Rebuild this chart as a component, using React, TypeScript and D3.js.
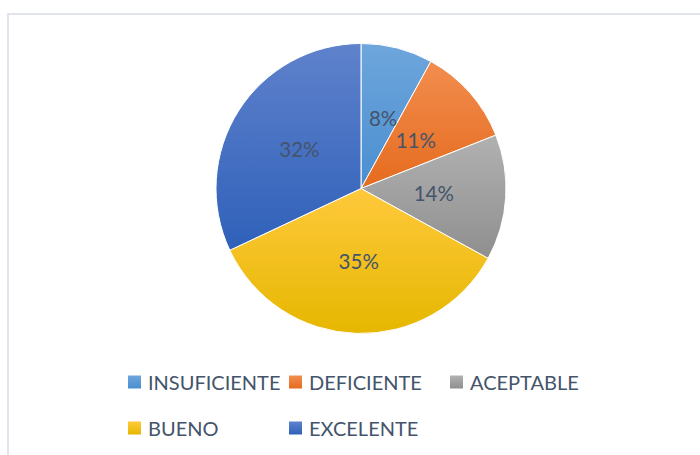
import React from "react";
import * as d3 from "d3";

const categories = ["INSUFICIENTE", "DEFICIENTE", "ACEPTABLE", "BUENO", "EXCELENTE"];
const values = [8, 11, 14, 35, 32];
const topColors = ["#6ea6dc", "#f28d4f", "#b1b1b1", "#ffc93c", "#5f82cc"];
const bottomColors = ["#4a8ed0", "#e56b1e", "#8f8f8f", "#e6b700", "#2f60b9"];

const W = 700;
const H = 455;
const cx = 361;
const cy = 188.5;
const R = 145;
const labelR = 73;
const textColor = "#44546a";
const font = "Lato, 'Open Sans', sans-serif";

export default function App() {
  const pie = d3.pie<number>().sort(null).value((d) => d)(values);
  const arc = d3.arc<d3.PieArcDatum<number>>().innerRadius(0).outerRadius(R);
  const labelArc = d3.arc<d3.PieArcDatum<number>>().innerRadius(labelR).outerRadius(labelR);
  const total = d3.sum(values);

  const legendCols = [128, 289, 450];
  const legendRows = [382, 428];

  return (
    <div style={{ position: "absolute", left: 0, top: 0 }}>
      <svg width={W} height={H} style={{ display: "block" }}>
        <defs>
          {categories.map((c, i) => (
            <linearGradient key={c} id={`g${i}`} x1="0" y1="0" x2="0" y2="1">
              <stop offset="0" stopColor={topColors[i]} />
              <stop offset="1" stopColor={bottomColors[i]} />
            </linearGradient>
          ))}
        </defs>
        <rect x={8} y={14} width={720} height={460} fill="#fff" stroke="#e1e5eb" strokeWidth={2} />
        <g transform={`translate(${cx},${cy})`}>
          {pie.map((p, i) => (
            <path key={i} d={arc(p) || ""} fill={`url(#g${i})`} stroke="#fff" strokeWidth={1} />
          ))}
          {pie.map((p, i) => {
            const [x, y] = labelArc.centroid(p);
            return (
              <text
                key={`l${i}`}
                x={i === 0 ? x + 4 : x}
                y={y}
                textAnchor="middle"
                dominantBaseline="central"
                fill={textColor}
                fontFamily={font}
                fontSize={20.5}
              >
                {`${Math.round((values[i] / total) * 100)}%`}
              </text>
            );
          })}
        </g>
        {categories.map((c, i) => {
          const col = i < 3 ? i : i - 3;
          const row = i < 3 ? 0 : 1;
          const x = legendCols[col];
          const y = legendRows[row];
          return (
            <g key={`lg${i}`}>
              <rect x={x} y={y - 6.5} width={13} height={13} fill={`url(#g${i})`} />
              <text
                x={x + 20}
                y={y}
                dominantBaseline="central"
                fill={textColor}
                fontFamily={font}
                fontSize={20}
              >
                {c}
              </text>
            </g>
          );
        })}
      </svg>
    </div>
  );
}
